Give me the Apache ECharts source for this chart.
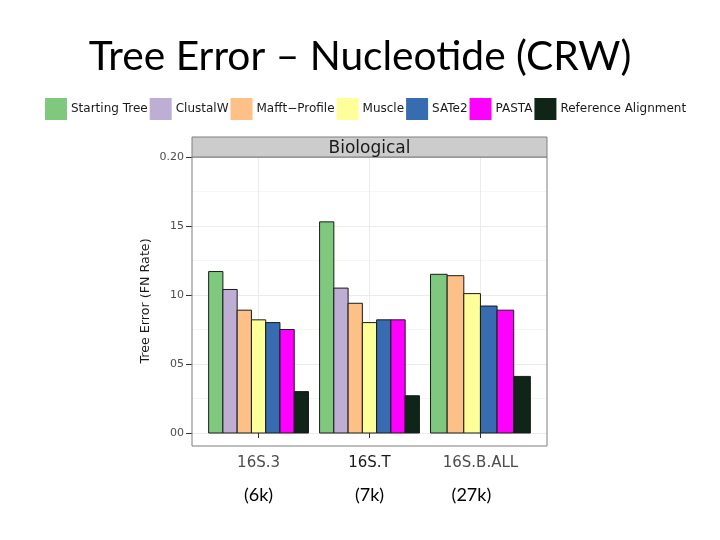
<!DOCTYPE html>
<html>
<head>
<meta charset="utf-8">
<script src="https://cdn.jsdelivr.net/npm/echarts@6/dist/echarts.min.js"></script>
<style>
  html, body { margin: 0; padding: 0; background: #fff; }
  #chart { width: 720px; height: 540px; }
</style>
</head>
<body>
<div id="chart"></div>
<script>
// data
const categories = ['16S.3', '16S.T', '16S.B.ALL'];
const sizes = ['(6k)', '(7k)', '(27k)'];
const methods = ['Starting Tree', 'ClustalW', 'Mafft−Profile', 'Muscle', 'SATe2', 'PASTA', 'Reference Alignment'];
const colors = ['#7fc97f', '#beaed4', '#fdc086', '#ffff99', '#386cb0', '#ff00ff', '#0e2517'];

const startingTree = [0.117, 0.153, 0.115];
const clustalW = [0.104, 0.105, null];
const mafftProfile = [0.089, 0.094, 0.114];
const muscle = [0.082, 0.080, 0.101];
const sate2 = [0.080, 0.082, 0.092];
const pasta = [0.075, 0.082, 0.089];
const refAlignment = [0.030, 0.027, 0.041];

const yTicks = [0, 0.05, 0.10, 0.15, 0.20];
const yTickLabels = ['00', '05', '10', '15', '0.20'];

const values = [startingTree, clustalW, mafftProfile, muscle, sate2, pasta, refAlignment];

const chart = echarts.init(document.getElementById('chart'));

// ggplot style dodge: bars in a group share 0.9 of the category width
function renderBar(mIdx) {
  return function (params, api) {
    const x = api.value(0);
    const v = api.value(1);
    const g = x - 1;
    const present = [];
    values.forEach((arr, i) => { if (arr[g] != null) present.push(i); });
    const n = present.length;
    const k = present.indexOf(mIdx);
    const w = 0.9 / n;
    const left = x - 0.45 + k * w;
    const p0 = api.coord([left, 0]);
    const p1 = api.coord([left + w, v]);
    return {
      type: 'rect',
      shape: { x: p0[0], y: p1[1], width: p1[0] - p0[0], height: p0[1] - p1[1] },
      style: { fill: colors[mIdx], stroke: '#1a1a1a', lineWidth: 1 }
    };
  };
}

const series = methods.map((name, i) => {
  const data = [];
  values[i].forEach((v, g) => { if (v != null) data.push([g + 1, v]); });
  const s = {
    name: name,
    type: 'custom',
    renderItem: renderBar(i),
    itemStyle: { color: colors[i] },
    encode: { x: 0, y: 1 },
    data: data,
    z: 3
  };
  if (i === 0) {
    s.markLine = {
      silent: true,
      symbol: 'none',
      label: { show: false },
      lineStyle: { color: '#ebebeb', width: 1, type: 'solid' },
      data: [{ xAxis: 1 }, { xAxis: 2 }, { xAxis: 3 }],
      z: 1
    };
  }
  return s;
});

const option = {
  backgroundColor: '#fff',
  animation: false,
  title: {
    text: 'Tree Error – Nucleotide (CRW)',
    left: 'center',
    top: 31,
    textStyle: { fontFamily: 'Lato', fontSize: 40.7, fontWeight: 'normal', color: '#000' }
  },
  legend: {
    data: methods.map(m => ({ name: m, icon: 'rect' })),
    left: 45,
    top: 98,
    padding: 0,
    itemWidth: 22,
    itemHeight: 22,
    itemGap: 2,
    textStyle: { fontFamily: 'DejaVu Sans', fontSize: 12, color: '#1a1a1a', padding: [2, 0, 0, -1] }
  },
  grid: { left: 192, right: 173, top: 157, bottom: 107 },
  graphic: [
    {
      type: 'rect',
      shape: { x: 192, y: 157, width: 355, height: 289 },
      style: { fill: 'none', stroke: '#7f7f7f', lineWidth: 1 },
      z: 10
    },
    {
      type: 'rect',
      shape: { x: 192, y: 137, width: 355, height: 20 },
      style: { fill: '#cccccc', stroke: '#7f7f7f', lineWidth: 1 },
      z: 10
    },
    {
      type: 'text',
      x: 369.5,
      y: 149,
      style: {
        text: 'Biological',
        fontFamily: 'DejaVu Sans',
        fontSize: 17,
        fill: '#1a1a1a',
        align: 'center',
        verticalAlign: 'middle'
      },
      z: 11
    }
  ],
  xAxis: {
    type: 'value',
    min: 0.4,
    max: 3.6,
    offset: 13,
    axisLine: { show: false },
    splitLine: { show: false },
    axisTick: { show: true, customValues: [1, 2, 3], length: 5, lineStyle: { color: '#333' } },
    axisLabel: {
      customValues: [1, 2, 3],
      margin: 9,
      formatter: function (v) {
        const i = Math.round(v) - 1;
        const a = i === 1 ? 'at' : 'a';
        const b = i === 2 ? 'c' : 'b';
        return '{' + a + '|' + categories[i] + '}\n{' + b + '|' + sizes[i] + '}';
      },
      rich: {
        a: { fontFamily: 'DejaVu Sans', fontSize: 15, color: '#4d4d4d', lineHeight: 17 },
        at: { fontFamily: 'DejaVu Sans', fontSize: 15, color: '#1a1a1a', lineHeight: 17 },
        b: { fontFamily: 'Lato', fontSize: 18, color: '#000', lineHeight: 47 },
        c: { fontFamily: 'Lato', fontSize: 18, color: '#000', lineHeight: 47, padding: [0, 18, 0, 0] }
      }
    }
  },
  yAxis: {
    type: 'value',
    min: 0,
    max: 0.2,
    interval: 0.05,
    name: 'Tree Error (FN Rate)',
    nameLocation: 'middle',
    nameGap: 40,
    nameTextStyle: { fontFamily: 'DejaVu Sans', fontSize: 12.7, color: '#1a1a1a', padding: [0, 12, 0, 0] },
    axisLine: { show: false },
    axisTick: { show: true, length: 6, lineStyle: { color: '#333' } },
    axisLabel: {
      margin: 8,
      fontFamily: 'DejaVu Sans',
      fontSize: 11,
      color: '#4d4d4d',
      formatter: function (v) {
        const i = yTicks.findIndex(t => Math.abs(t - v) < 1e-9);
        return i >= 0 ? yTickLabels[i] : '';
      }
    },
    splitLine: { show: true, lineStyle: { color: '#ebebeb', width: 1 } },
    minorTick: { show: false, splitNumber: 2 },
    minorSplitLine: { show: true, lineStyle: { color: '#f5f5f5', width: 1 } }
  },
  series: series
};

chart.setOption(option);
</script>
</body>
</html>
